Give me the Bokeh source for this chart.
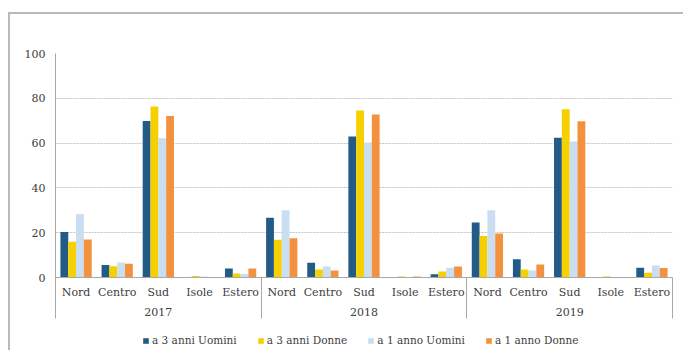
from bokeh.plotting import figure
from bokeh.layouts import column
from bokeh.models import Range1d, LinearAxis, FixedTicker, ColumnDataSource, Legend, LegendItem
from bokeh.embed import file_html
from bokeh.resources import INLINE
import numpy as np

# categories
years = ["2017", "2018", "2019"]
regions = ["Nord", "Centro", "Sud", "Isole", "Estero"]
series_names = ["a 3 anni Uomini", "a 3 anni Donne", "a 1 anno Uomini", "a 1 anno Donne"]

# percentages, one value per (year, region), years in order
uomini_3anni = [20.3, 5.6, 69.9, 0.0, 4.0, 26.7, 6.6, 63.0, 0.0, 1.5, 24.5, 8.1, 62.4, 0.0, 4.3]
donne_3anni = [16.0, 5.0, 76.3, 0.7, 1.8, 16.9, 3.6, 74.5, 0.4, 2.7, 18.5, 3.6, 75.1, 0.4, 2.1]
uomini_1anno = [28.4, 6.7, 62.2, 0.5, 1.6, 30.0, 4.9, 60.3, 0.0, 4.3, 30.0, 3.1, 60.7, 0.0, 5.4]
donne_1anno = [17.0, 6.1, 72.1, 0.0, 4.0, 17.5, 3.1, 72.8, 0.4, 4.9, 19.6, 5.8, 69.7, 0.0, 4.2]

y_ticks = [0, 20, 40, 60, 80, 100]

colors = ["#225b86", "#f6d000", "#c9def1", "#f3913f"]
TEXT = "#404040"
AXIS = "#a8a8a8"
FRAME = "2px solid #b9b9b9"
FONT = "DejaVu Serif"

n_cat = len(years) * len(regions)
cat_index = np.arange(n_cat)

p = figure(
    width=675, height=308,
    x_range=Range1d(-0.5, n_cat - 0.5), y_range=Range1d(0, 100),
    output_backend="svg", toolbar_location=None,
    min_border_left=45, min_border_right=13, min_border_top=39, min_border_bottom=45,
)
p.margin = (12, 0, 0, 8)
p.styles = {"border-top": FRAME, "border-left": FRAME}
p.outline_line_color = None
p.background_fill_color = "white"
p.border_fill_color = "white"

# grouped bars
bar_w = 0.19
offsets = [-1.5 * bar_w, -0.5 * bar_w, 0.5 * bar_w, 1.5 * bar_w]
for vals, off, col in zip([uomini_3anni, donne_3anni, uomini_1anno, donne_1anno], offsets, colors):
    src = ColumnDataSource(dict(x=cat_index + off, top=vals))
    p.vbar(x="x", top="top", width=bar_w, bottom=0, source=src,
           fill_color=col, line_color=None)

# y axis and grid
p.yaxis.ticker = FixedTicker(ticks=y_ticks)
p.yaxis.major_tick_out = 0
p.yaxis.major_tick_in = 0
p.yaxis.minor_tick_line_color = None
p.yaxis.axis_line_color = AXIS
p.yaxis.major_label_text_font = FONT
p.yaxis.major_label_text_font_size = "11px"
p.yaxis.major_label_text_color = TEXT
p.yaxis.major_label_standoff = 10
p.ygrid.ticker = FixedTicker(ticks=y_ticks)
p.ygrid.grid_line_color = "#c4c4c4"
p.ygrid.grid_line_dash = "2 1"
p.xgrid.visible = False

# region labels, with group separators drawn as long minor ticks
sep_len = 41
ax1 = p.xaxis[0]
ax1.ticker = FixedTicker(ticks=list(range(n_cat)),
                         minor_ticks=[-0.5 + k * len(regions) for k in range(len(years) + 1)])
ax1.major_label_overrides = {i: regions[i % len(regions)] for i in range(n_cat)}
ax1.major_tick_out = 0
ax1.major_tick_in = 0
ax1.minor_tick_out = sep_len
ax1.minor_tick_in = 0
ax1.minor_tick_line_color = AXIS
ax1.axis_line_color = AXIS
ax1.major_label_text_font = FONT
ax1.major_label_text_font_size = "11px"
ax1.major_label_text_color = TEXT
ax1.major_label_standoff = 8 - sep_len

# year labels
year_pos = [k * len(regions) + 2 for k in range(len(years))]
ax2 = LinearAxis(ticker=FixedTicker(ticks=year_pos),
                 major_label_overrides={pos: y for pos, y in zip(year_pos, years)})
ax2.axis_line_color = None
ax2.major_tick_line_color = None
ax2.minor_tick_line_color = None
ax2.major_label_text_font = FONT
ax2.major_label_text_font_size = "11px"
ax2.major_label_text_color = TEXT
ax2.major_label_standoff = 0
p.add_layout(ax2, "below")

# legend strip under the chart; each swatch renderer is a zero-size bar
leg = figure(
    width=675, height=30, output_backend="svg", toolbar_location=None,
    x_range=Range1d(0, 1), y_range=Range1d(0, 1),
    x_axis_location=None, y_axis_location=None, min_border=0,
)
leg.margin = (0, 0, 0, 8)
leg.styles = {"border-left": FRAME}
leg.outline_line_color = None
leg.xgrid.visible = False
leg.ygrid.visible = False
swatches = [leg.vbar(x=[0], top=[0], bottom=0, width=0, fill_color=c, line_color=None)
            for c in colors]
legend = Legend(
    items=[LegendItem(label=name, renderers=[r]) for name, r in zip(series_names, swatches)],
    orientation="horizontal", location=(87, 4),
    border_line_color=None, background_fill_alpha=0,
    glyph_width=7, glyph_height=7, label_standoff=3, spacing=20,
    label_text_font=FONT, label_text_font_size="10.5px", label_text_color=TEXT,
    padding=0, margin=0,
)
leg.add_layout(legend, "center")

open("out.html", "w").write(file_html(column(p, leg), INLINE))
